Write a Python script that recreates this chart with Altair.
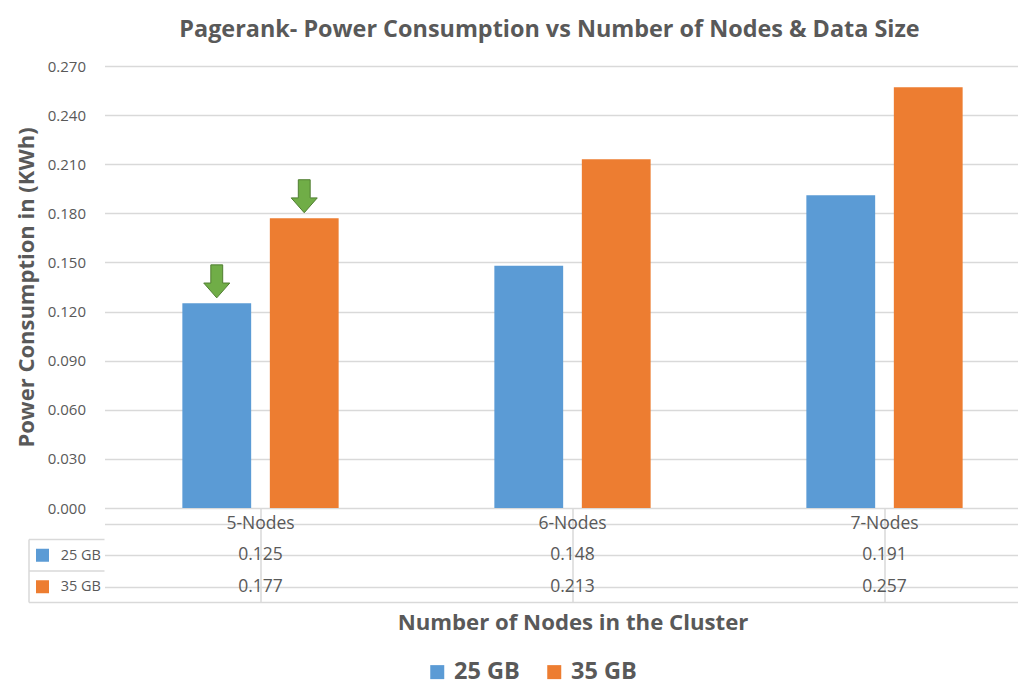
import altair as alt
import pandas as pd

categories = ["5-Nodes", "6-Nodes", "7-Nodes"]
series = ["25 GB", "35 GB"]
values_25 = [0.125, 0.148, 0.191]
values_35 = [0.177, 0.213, 0.257]
arrow_categories = ["5-Nodes"]
y_ticks = [0.000, 0.030, 0.060, 0.090, 0.120, 0.150, 0.180, 0.210, 0.240, 0.270]
colors = ["#5B9BD5", "#ED7D31"]

rows = []
for i, c in enumerate(categories):
    rows.append({"node": c, "size": series[0], "row": series[0], "value": values_25[i]})
    rows.append({"node": c, "size": series[1], "row": series[1], "value": values_35[i]})
df = pd.DataFrame(rows)
arrows_df = df[df["node"].isin(arrow_categories)]
hdr_df = pd.DataFrame({"node": categories, "row": ["hdr"] * len(categories)})
sq_df = pd.DataFrame({"size": series, "row": series})
one = pd.DataFrame({"a": [0]})

FONT = "Open Sans"
GRAY = "#595959"
GRID = "#D9D9D9"
W = 936          # plot width; the right part is cropped like in the reference
H = 442
ROWH = 31.5
LEFTCOL = -75.5

color = alt.Color(
    "size:N",
    scale=alt.Scale(domain=series, range=colors),
    legend=alt.Legend(
        title=None, orient="none", legendX=321, legendY=594, direction="horizontal",
        symbolType="square", symbolSize=196, symbolStrokeWidth=0, labelFontSize=23.5,
        labelFontWeight="bold", labelColor=GRAY, labelFont=FONT, columnPadding=22,
        symbolOpacity=1, labelOffset=5,
    ),
)

xs = alt.Scale(domain=categories, paddingInner=0, paddingOuter=0)
x_main = alt.X("node:N", scale=xs, axis=None)
xoff = alt.XOffset("size:N", scale=alt.Scale(domain=series, paddingInner=0.2135, paddingOuter=0.89))
y_main = alt.Y(
    "value:Q",
    scale=alt.Scale(domain=[0, 0.27], nice=False, zero=True),
    axis=alt.Axis(
        values=y_ticks, format=".3f", grid=True, gridColor=GRID, gridWidth=1.5,
        ticks=False, domain=False, labelFontSize=15, labelColor=GRAY, labelFont=FONT,
        labelPadding=19, title="Power Consumption in (KWh)", titleFontSize=22,
        titleFontWeight="bold", titleColor=GRAY, titleFont=FONT, titlePadding=9,
    ),
)

bars = alt.Chart(df).mark_bar().encode(x=x_main, xOffset=xoff, y=y_main, color=color)

arrow_path = "M-0.36,-1L0.36,-1L0.36,0.1L0.79,0.1L0,1L-0.79,0.1L-0.36,0.1Z"
arrows = alt.Chart(arrows_df).mark_point(
    shape=arrow_path, size=1089, filled=True, fill="#70AD47", stroke="#507E32",
    strokeWidth=1, opacity=1, yOffset=-22,
).encode(x=x_main, xOffset=xoff, y="value:Q")

main = alt.layer(bars, arrows).properties(
    width=W, height=H,
    title=alt.Title(
        "Pagerank- Power Consumption vs Number of Nodes & Data Size",
        fontSize=23.4, fontWeight="bold", color=GRAY, font=FONT, anchor="middle",
        dx=-23, offset=17,
    ),
    view=alt.ViewBackground(stroke="transparent"),
)

table_rows = ["hdr"] + series
ytab = alt.Y(
    "row:N",
    scale=alt.Scale(domain=table_rows, paddingInner=0, paddingOuter=0),
    axis=alt.Axis(
        title=None, labelExpr="datum.value == 'hdr' ? '' : datum.value", ticks=False,
        domain=False, grid=True, bandPosition=0, gridColor=GRID, gridWidth=1.5,
        labelFontSize=14.5, labelColor=GRAY, labelFont=FONT, labelPadding=4,
    ),
)
xtab = alt.X(
    "node:N", scale=xs,
    axis=alt.Axis(
        title="Number of Nodes in the Cluster", labels=False, ticks=False, domain=False,
        grid=True, bandPosition=0, gridColor=GRID, gridWidth=1.5, titleFontSize=22.2,
        titleFontWeight="bold", titleColor=GRAY, titleFont=FONT, titlePadding=8.5,
    ),
)

hdr_text = alt.Chart(hdr_df).mark_text(fontSize=17.5, font=FONT, color=GRAY).encode(
    x=xtab, y=ytab, text="node:N")
val_text = alt.Chart(df).mark_text(fontSize=17.5, font=FONT, color=GRAY).encode(
    x=xtab, y=ytab, text=alt.Text("value:Q", format=".3f"))
squares = alt.Chart(sq_df).mark_square(size=169, opacity=1).encode(
    x=alt.value(-62), y=ytab,
    color=alt.Color("size:N", scale=alt.Scale(domain=series, range=colors), legend=None))
rule_style = dict(color=GRID, strokeWidth=1.5)
r_top = alt.Chart(one).mark_rule(**rule_style).encode(
    x=alt.value(LEFTCOL), x2=alt.value(0), y=alt.value(ROWH))
r_mid = alt.Chart(one).mark_rule(**rule_style).encode(
    x=alt.value(LEFTCOL), x2=alt.value(0), y=alt.value(2 * ROWH))
r_bot = alt.Chart(one).mark_rule(**rule_style).encode(
    x=alt.value(LEFTCOL), x2=alt.value(W), y=alt.value(3 * ROWH))
r_left = alt.Chart(one).mark_rule(**rule_style).encode(
    x=alt.value(LEFTCOL), y=alt.value(ROWH), y2=alt.value(3 * ROWH))

table = alt.layer(hdr_text, val_text, squares, r_top, r_mid, r_bot, r_left).properties(
    width=W, height=3 * ROWH,
    view=alt.ViewBackground(stroke="transparent"),
)

chart = alt.vconcat(main, table, spacing=0, bounds="flush").properties(
    padding={"left": 6.5, "top": 9, "right": -24.5, "bottom": 0},
    background="white",
).configure(font=FONT)

chart.save("out.html", embed_options={"renderer": "svg", "actions": False})
